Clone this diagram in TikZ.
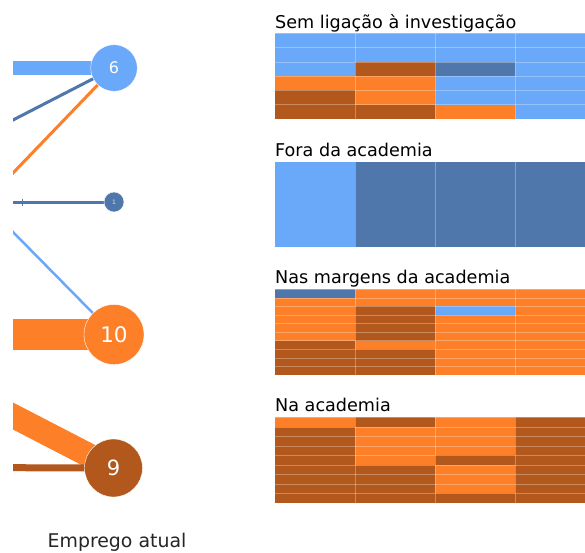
\documentclass[tikz,border=0pt]{standalone}
\usepackage{fontspec}
\setmainfont{DejaVu Sans}
\usetikzlibrary{backgrounds}
\definecolor{LB}{RGB}{106,168,250}
\definecolor{SB}{RGB}{79,119,171}
\definecolor{OR}{RGB}{253,127,40}
\definecolor{BR}{RGB}{178,88,28}
\newcommand\mypanel[3]{%
  \pgfmathsetmacro\rh{85.7/#2}%
  \foreach \row [count=\r from 0] in {#3} {
    \foreach \c [count=\k from 0] in \row {
      \fill[\c] ({275+80*\k},{#1+\rh*\r}) rectangle ++(80,\rh);
    }
  }
  \foreach \r in {0,...,#2} {
    \draw[gridline] (275,{#1+\rh*\r}) -- (595,{#1+\rh*\r});
  }
  \foreach \x in {355,435,515} {
    \draw[gridline] (\x,#1) -- (\x,{#1+85.7});
  }
}
\begin{document}
\begin{tikzpicture}[x=1pt,y=-1pt,
  gridline/.style={white,opacity=0.3,line width=0.6pt},
  paneltitle/.style={anchor=base west,inner sep=0pt,font=\fontsize{17.6}{18}\selectfont},
  bub/.style={circle,inner sep=0pt,text=white,draw=white,line width=0.4pt},
  flow/.style={shorten <=-25pt}]
\useasboundingbox (0,0) rectangle (585,552);

% panels
\begin{scope}
\clip (0,0) rectangle (585,552);
\mypanel{33.3}{6}{{LB,LB,LB,LB},{LB,LB,LB,LB},{LB,BR,SB,LB},{OR,OR,LB,LB},{BR,OR,LB,LB},{BR,BR,OR,LB}}
\mypanel{161.7}{1}{{LB,SB,SB,SB}}
\mypanel{289.3}{10}{{SB,OR,OR,OR},{OR,OR,OR,OR},{OR,BR,LB,OR},{OR,BR,OR,OR},{OR,BR,OR,OR},{OR,BR,OR,OR},{BR,OR,OR,OR},{BR,BR,OR,OR},{BR,BR,OR,OR},{BR,BR,OR,OR}}
\mypanel{417.3}{9}{{OR,BR,OR,BR},{BR,OR,OR,BR},{BR,OR,OR,BR},{BR,OR,OR,BR},{BR,OR,BR,BR},{BR,BR,OR,BR},{BR,BR,OR,BR},{BR,BR,OR,BR},{BR,BR,BR,BR}}
\end{scope}

\node[paneltitle] (t1) at (275,28.3) {Sem ligação à investigação};
\node[paneltitle] (t2) at (275,156.7) {Fora da academia};
\node[paneltitle] (t3) at (275,283.8) {Nas margens da academia};
\node[paneltitle] (t4) at (275,411.7) {Na academia};

% bubbles
\node[bub,fill=LB,minimum size=46.6pt,font=\fontsize{16}{16}\selectfont] (c6) at (114,68) {6};
\node[bub,fill=SB,minimum size=20pt,font=\fontsize{6}{6}\selectfont,text=white!80!SB] (c1) at (114,202) {1};
\node[bub,fill=OR,minimum size=60pt,font=\fontsize{21.5}{21.5}\selectfont] (c10) at (114,334.5) {10};
\node[bub,fill=BR,minimum size=58pt,font=\fontsize{21}{21}\selectfont] (c9) at (113.5,468) {9};

\coordinate (s1) at (13,68);
\coordinate (s2) at (13,120);
\coordinate (s3) at (13,173);
\coordinate (s4) at (13,202);
\coordinate (s5) at (13,232);
\coordinate (s6) at (13,334.5);
\coordinate (s7) at (13,416);
\coordinate (s8) at (13,467.7);

\begin{scope}[on background layer]
\fill[white] (0,0) rectangle (585,552);
\clip (13,0) rectangle (585,552);
\draw[flow,LB,line width=14pt] (s1) -- (c6.center);
\draw[flow,SB,line width=3pt] (s2) -- (c6.center);
\draw[flow,OR,line width=3pt] (s3) -- (c6.center);
\draw[flow,SB,line width=3pt] (s4) -- (c1.center);
\draw[SB,line width=1.2pt] (22.5,198.5) -- (22.5,205.5);
\draw[flow,LB,line width=2.5pt] (s5) -- (c10.center);
\draw[flow,OR,line width=31pt] (s6) -- (c10.center);
\draw[flow,OR,line width=24pt] (s7) -- (c9.center);
\draw[flow,BR,line width=7pt] (s8) -- (c9.center);
\end{scope}

\node[anchor=base,inner sep=0pt,font=\fontsize{18.9}{19}\selectfont,text=black!85] (lbl) at (117,547.3) {Emprego atual};
\end{tikzpicture}
\end{document}
